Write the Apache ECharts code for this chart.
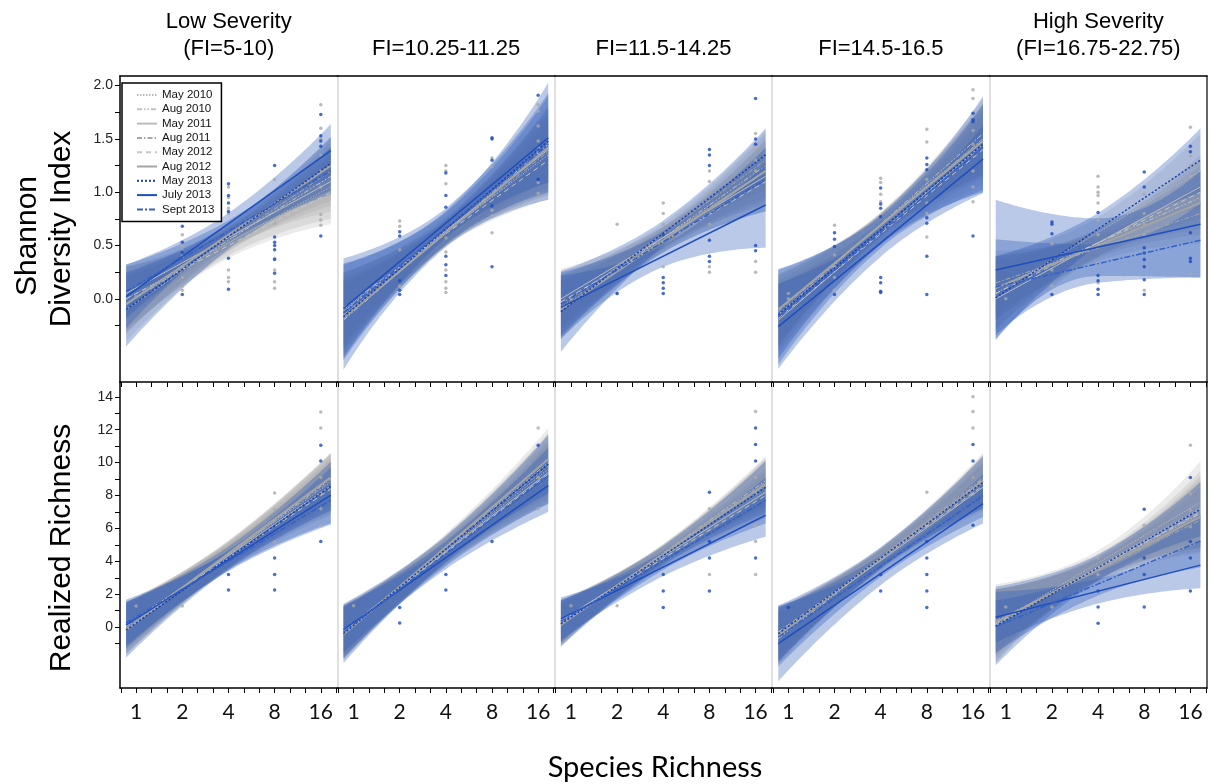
<!DOCTYPE html>
<html>
<head>
<meta charset="utf-8">
<script src="https://cdn.jsdelivr.net/npm/echarts@6/dist/echarts.min.js"></script>
<style>
  html, body { margin: 0; background: #fff; }
  #chart { width: 1211px; height: 784px; }
</style>
</head>
<body>
<div id="chart"></div>
<script>
// ---- data -----------------------------------------------------------
const seriesNames = ['May 2010', 'Aug 2010', 'May 2011', 'Aug 2011', 'May 2012', 'Aug 2012', 'May 2013', 'July 2013', 'Sept 2013'];
const panelTitles = ['Low Severity\n(FI=5-10)', 'FI=10.25-11.25', 'FI=11.5-14.25', 'FI=14.5-16.5', 'High Severity\n(FI=16.75-22.75)'];
const speciesLevels = [1, 2, 4, 8, 16];
// species richness where the fits start, where the bands are narrowest, where they end
const fitSpan = [0.86, 4, 18.6];

const shannonTickValues = [-0.25, 0, 0.25, 0.5, 0.75, 1, 1.25, 1.5, 1.75, 2];
const shannonLabelValues = [0, 0.5, 1, 1.5, 2];
const richnessTickValues = [-1, 0, 1, 2, 3, 4, 5, 6, 7, 8, 9, 10, 11, 12, 13, 14];
const richnessLabelValues = [0, 2, 4, 6, 8, 10, 12, 14];

// fitted line value at fit start / fit end, one row per sampling date
const shannonFits = [
  [[0.00, 1.05], [-0.05, 1.15], [0.05, 1.10], [-0.10, 1.20], [0.00, 1.00], [-0.05, 1.25], [-0.10, 1.27], [0.02, 1.39], [0.07, 1.20]],
  [[-0.10, 1.35], [-0.20, 1.45], [-0.12, 1.40], [-0.15, 1.38], [-0.08, 1.30], [-0.18, 1.42], [-0.17, 1.48], [-0.09, 1.51], [-0.13, 1.45]],
  [[-0.05, 1.20], [-0.10, 1.25], [0.00, 1.15], [-0.08, 1.30], [-0.03, 1.10], [-0.10, 1.20], [-0.12, 1.35], [-0.08, 0.88], [-0.05, 1.12]],
  [[-0.10, 1.50], [-0.15, 1.55], [-0.20, 1.45], [-0.12, 1.50], [-0.18, 1.40], [-0.10, 1.48], [-0.15, 1.45], [-0.26, 1.31], [-0.17, 1.42]],
  [[0.05, 1.20], [0.10, 0.95], [0.00, 1.05], [0.15, 0.80], [0.05, 1.00], [0.10, 0.90], [0.01, 1.30], [0.27, 0.70], [0.11, 0.55]]
];
// confidence band half width at fit start / waist / fit end
const shannonBands = [
  [[0.30, 0.12, 0.30], [0.28, 0.10, 0.28], [0.25, 0.10, 0.28], [0.30, 0.11, 0.28], [0.30, 0.12, 0.30], [0.28, 0.11, 0.26], [0.35, 0.12, 0.25], [0.30, 0.10, 0.25], [0.25, 0.10, 0.22]],
  [[0.35, 0.12, 0.38], [0.34, 0.12, 0.36], [0.36, 0.13, 0.38], [0.35, 0.12, 0.40], [0.33, 0.12, 0.37], [0.35, 0.12, 0.38], [0.50, 0.17, 0.55], [0.47, 0.14, 0.42], [0.45, 0.15, 0.45]],
  [[0.28, 0.10, 0.28], [0.27, 0.10, 0.30], [0.28, 0.10, 0.27], [0.29, 0.10, 0.28], [0.26, 0.10, 0.28], [0.28, 0.10, 0.30], [0.38, 0.12, 0.25], [0.30, 0.10, 0.40], [0.30, 0.10, 0.30]],
  [[0.33, 0.11, 0.33], [0.32, 0.11, 0.33], [0.34, 0.11, 0.32], [0.33, 0.11, 0.34], [0.32, 0.11, 0.33], [0.33, 0.11, 0.33], [0.42, 0.14, 0.45], [0.40, 0.13, 0.32], [0.45, 0.15, 0.40]],
  [[0.35, 0.14, 0.35], [0.30, 0.12, 0.30], [0.35, 0.13, 0.30], [0.30, 0.12, 0.28], [0.33, 0.13, 0.30], [0.30, 0.12, 0.30], [0.39, 0.15, 0.30], [0.66, 0.27, 0.50], [0.45, 0.18, 0.35]]
];
const richnessFits = [
  [[0.00, 8.80], [-0.20, 9.00], [0.10, 8.60], [-0.10, 8.90], [0.05, 8.40], [-0.15, 9.10], [-0.18, 8.57], [0.12, 8.02], [0.26, 7.72]],
  [[-0.30, 9.60], [-0.40, 10.00], [-0.20, 9.40], [-0.35, 9.80], [-0.25, 9.30], [-0.45, 10.20], [-0.40, 9.90], [-0.15, 8.60], [-0.30, 9.20]],
  [[0.30, 8.60], [0.10, 8.90], [0.40, 8.20], [0.20, 8.80], [0.35, 8.00], [0.15, 8.70], [0.20, 8.50], [0.50, 6.80], [0.35, 7.70]],
  [[-0.50, 8.80], [-0.70, 9.00], [-0.40, 8.50], [-0.60, 9.10], [-0.30, 8.60], [-0.50, 8.90], [-0.40, 8.80], [-1.00, 7.50], [-0.60, 8.00]],
  [[0.20, 7.60], [0.30, 6.90], [0.10, 7.20], [0.40, 6.50], [0.20, 7.00], [0.30, 6.70], [0.06, 7.17], [0.60, 3.77], [0.02, 5.23]]
];
const richnessBands = [
  [[1.50, 0.80, 1.70], [1.45, 0.80, 1.60], [1.50, 0.75, 1.70], [1.55, 0.80, 1.65], [1.40, 0.75, 1.60], [1.50, 0.80, 1.50], [1.70, 0.70, 1.50], [1.40, 0.60, 1.70], [1.40, 0.60, 1.50]],
  [[1.60, 0.80, 1.90], [1.55, 0.80, 1.80], [1.60, 0.75, 1.85], [1.65, 0.80, 1.90], [1.50, 0.75, 1.80], [1.60, 0.80, 1.90], [1.80, 0.80, 1.80], [1.40, 0.70, 1.60], [1.60, 0.75, 1.70]],
  [[1.30, 0.55, 1.50], [1.25, 0.55, 1.50], [1.30, 0.55, 1.45], [1.35, 0.55, 1.50], [1.25, 0.55, 1.40], [1.30, 0.55, 1.50], [1.40, 0.60, 1.60], [1.30, 0.55, 1.30], [1.30, 0.55, 1.40]],
  [[1.60, 0.60, 1.50], [1.55, 0.60, 1.50], [1.60, 0.60, 1.45], [1.65, 0.60, 1.50], [1.50, 0.60, 1.40], [1.60, 0.60, 1.50], [1.70, 0.65, 1.60], [2.30, 0.70, 1.20], [1.80, 0.65, 1.30]],
  [[2.40, 0.75, 2.50], [2.00, 0.70, 2.10], [2.20, 0.75, 2.30], [1.90, 0.70, 2.00], [2.10, 0.70, 2.20], [2.00, 0.70, 2.10], [2.40, 0.80, 1.65], [1.55, 0.75, 1.40], [1.60, 0.70, 1.60]]
];

// plot points, one list per species level (1, 2, 4, 8, 16)
const shannonBlue = [
  [[], [0.74, 0.68, 0.53, 0.44, 0.04], [1.08, 0.97, 0.90, 0.82, 0.38, 0.09], [1.25, 0.58, 0.53, 0.50, 0.46, 0.37, 0.24], [1.73, 1.53, 1.48, 1.43, 0.59]],
  [[], [0.63, 0.59, 0.17, 0.08, 0.04], [1.18, 0.97, 0.86, 0.40, 0.32, 0.22], [1.51, 1.50, 1.30, 0.87, 0.30], [1.91, 1.12]],
  [[], [0.05], [0.60, 0.55, 0.20, 0.15, 0.10, 0.05], [1.40, 1.35, 1.25, 0.85, 0.55, 0.40, 0.35], [1.88, 1.50, 1.45, 0.50, 0.45]],
  [[], [0.62, 0.56, 0.49, 0.04], [1.04, 0.89, 0.85, 0.77, 0.20, 0.15, 0.07, 0.06], [1.32, 1.26, 1.21, 0.76, 0.71, 0.40, 0.04], [1.74, 1.68, 1.66, 0.59]],
  [[], [0.72, 0.70, 0.61, 0.04], [0.81, 0.22, 0.17, 0.09, 0.04], [1.19, 1.05, 0.48, 0.43, 0.37, 0.30, 0.18, 0.04], [1.43, 1.38, 0.62, 0.38, 0.35]]
];
const shannonGrey = [
  [[0.02], [0.60, 0.50, 0.45, 0.40, 0.30, 0.20, 0.12, 0.08], [1.05, 0.95, 0.85, 0.80, 0.27, 0.20, 0.16], [1.12, 0.71, 0.38, 0.27, 0.16, 0.10], [1.82, 1.60, 1.50, 1.35, 1.20, 1.05, 0.79, 0.74, 0.69]],
  [[-0.05], [0.73, 0.68, 0.46, 0.12], [1.25, 1.20, 1.08, 0.57, 0.44, 0.27, 0.16, 0.10, 0.06], [1.32, 1.24, 0.83, 0.78, 0.62], [1.82, 1.76, 1.62, 1.48, 1.42, 1.37, 1.09, 0.99]],
  [[0.00], [0.70, 0.05], [0.90, 0.80, 0.70, 0.30], [1.20, 1.10, 1.00, 0.70, 0.30, 0.25], [1.55, 1.40, 1.30, 1.20, 0.35, 0.25]],
  [[0.00, 0.05], [0.69, 0.41, 0.30, 0.20, 0.08], [1.13, 1.09, 0.98, 0.91], [1.59, 1.47, 1.12, 1.00, 0.90, 0.80, 0.58], [1.96, 1.88, 1.58, 1.45, 1.35, 1.20, 1.05, 0.91]],
  [[0.00], [0.52, 0.27, 0.12], [1.15, 1.05, 1.00, 0.97, 0.90, 0.74, 0.60, 0.52, 0.33, 0.15], [0.98, 0.90, 0.80, 0.70, 0.60, 0.08], [1.61, 1.34, 1.25, 1.15, 0.23]]
];
const richnessBlue = [
  [[], [], [3.2, 2.25], [4.2, 3.2, 2.25], [11.06, 10.1, 5.2]],
  [[], [1.2, 0.25], [3.2, 2.25], [5.2], [11.06]],
  [[], [], [3.2, 2.2, 1.2], [8.2, 5.2, 4.2, 2.2], [12.1, 11.1, 10.1, 4.2]],
  [[1.2], [], [3.2, 2.2], [5.2, 4.2, 3.2, 2.2, 1.2], [11.1, 10.1, 6.2]],
  [[], [], [2.2, 1.23, 0.24], [7.17, 4.2, 3.2, 1.23], [9.1, 5.2, 4.2, 2.2]]
];
const richnessGrey = [
  [[1.28], [1.28], [], [8.15, 7.17, 5.19], [13.07, 12.1, 9.1, 8.1, 7.2, 6.2]],
  [[1.3], [], [], [], [12.1, 9.1, 7.2]],
  [[1.3], [1.3], [], [7.2, 3.2], [13.1, 9.1, 8.1, 6.2, 5.2, 3.2]],
  [[], [], [], [8.2, 6.2], [14.0, 13.1, 12.1, 9.1, 8.1]],
  [[1.23], [1.23], [4.2, 3.2], [6.2, 5.2], [11.06, 8.1, 7.1, 6.1]]
];

// ---- styles ---------------------------------------------------------
const lineStyles = [
  { color: '#b8b8b8', type: [1.5, 1.5], width: 1 },
  { color: '#c2c2c2', type: [5, 2, 1.5, 2, 1.5, 2], width: 1 },
  { color: '#bcbcbc', type: 'solid', width: 1 },
  { color: '#a8a8a8', type: [5, 2, 1.5, 2], width: 1 },
  { color: '#c8c8c8', type: [5, 4], width: 1 },
  { color: '#a4a4a4', type: 'solid', width: 2 },
  { color: '#163fb0', type: [2, 2], width: 1.5 },
  { color: '#1f4ebf', type: 'solid', width: 1.5 },
  { color: '#3461c9', type: [6, 2, 2, 2], width: 1.5 }
];
const GREY_BAND = 'rgba(150,150,150,0.19)';
const BLUE_BAND = 'rgba(40,88,185,0.32)';
const GREY_DOT = '#a9a9a9';
const BLUE_DOT = '#1a48bd';

const LEFT = 120, PANEL_W = 217.4, TOP = 76, ROW_H = 306;

const rows = [
  { fits: shannonFits, bands: shannonBands, blue: shannonBlue, grey: shannonGrey,
    ticks: shannonTickValues, labels: shannonLabelValues, min: -0.78, max: 2.09, fmt: v => v.toFixed(1) },
  { fits: richnessFits, bands: richnessBands, blue: richnessBlue, grey: richnessGrey,
    ticks: richnessTickValues, labels: richnessLabelValues, min: -3.7, max: 14.9, fmt: v => String(v) }
];

// x is drawn on log2 of species richness; ticks every third of a doubling
const xTickValues = [];
for (let k = -1; k <= 13; k++) xTickValues.push(k / 3);
const xLabelValues = speciesLevels.map(v => Math.log2(v));

const grids = [], xAxes = [], yAxes = [], extraX = [], extraY = [], series = [];
const xl = Math.log2(fitSpan[0]), xm = Math.log2(fitSpan[1]), xr = Math.log2(fitSpan[2]);

function toPoints(lists) {
  const pts = [];
  speciesLevels.forEach((lv, i) => lists[i].forEach(v => pts.push([Math.log2(lv), v])));
  return pts;
}

rows.forEach((row, r) => {
  for (let p = 0; p < 5; p++) {
    const g = r * 5 + p;
    grids.push({ left: LEFT + p * PANEL_W, top: TOP + r * ROW_H, width: PANEL_W, height: ROW_H });

    xAxes.push({
      type: 'value', gridIndex: g, min: -0.35, max: 4.36,
      axisLine: { show: true, onZero: false, lineStyle: { color: '#000', width: 1.5 } },
      axisTick: { show: true, customValues: xTickValues, length: 5, lineStyle: { color: '#000', width: 1 } },
      axisLabel: {
        show: r === 1, customValues: xLabelValues, margin: 14,
        formatter: v => String(Math.round(Math.pow(2, v))),
        fontFamily: 'Lato', fontSize: 21, color: '#111'
      },
      splitLine: { show: false }
    });
    if (r === 0) {
      extraX.push({
        type: 'value', gridIndex: g, position: 'top',
        axisLine: { show: true, onZero: false, lineStyle: { color: '#000', width: 1.5 } },
        axisTick: { show: false }, axisLabel: { show: false }, splitLine: { show: false }
      });
    }
    yAxes.push({
      type: 'value', gridIndex: g, min: row.min, max: row.max,
      axisLine: { show: true, onZero: false, lineStyle: { color: p === 0 ? '#000' : '#d6d6d6', width: 1.5 } },
      axisTick: { show: p === 0, customValues: row.ticks, length: 5, lineStyle: { color: '#000' } },
      axisLabel: {
        show: p === 0, customValues: row.labels, margin: 7, formatter: row.fmt,
        fontFamily: 'Liberation Sans', fontSize: 14, color: '#222'
      },
      splitLine: { show: false }
    });
    if (p === 4) {
      extraY.push({
        type: 'value', gridIndex: g, position: 'right',
        axisLine: { show: true, onZero: false, lineStyle: { color: '#333', width: 1.5 } },
        axisTick: { show: false }, axisLabel: { show: false }, splitLine: { show: false }
      });
    }

    // confidence bands: lower edge, then band thickness stacked on it.
    // rows are [y, x] so that the stack is taken on y.
    seriesNames.forEach((name, s) => {
      const [yl, yr] = row.fits[p][s];
      const [hl, hm, hr] = row.bands[p][s];
      const ym = yl + (yr - yl) * (xm - xl) / (xr - xl);
      const stack = 'band' + g + '_' + s;
      const common = {
        type: 'line', xAxisIndex: g, yAxisIndex: g, stack, stackStrategy: 'all',
        encode: { x: 1, y: 0 },
        smooth: 0.5, symbol: 'none', silent: true, lineStyle: { opacity: 0 }, z: 1
      };
      series.push(Object.assign({}, common, { data: [[yl - hl, xl], [ym - hm, xm], [yr - hr, xr]] }));
      series.push(Object.assign({}, common, {
        areaStyle: { color: s >= 6 ? BLUE_BAND : GREY_BAND, opacity: 1 },
        data: [[2 * hl, xl], [2 * hm, xm], [2 * hr, xr]]
      }));
    });

    series.push({ type: 'scatter', xAxisIndex: g, yAxisIndex: g, symbolSize: 3.5, silent: true, z: 3,
      itemStyle: { color: GREY_DOT }, data: toPoints(row.grey[p]) });
    series.push({ type: 'scatter', xAxisIndex: g, yAxisIndex: g, symbolSize: 3.5, silent: true, z: 3,
      itemStyle: { color: BLUE_DOT }, data: toPoints(row.blue[p]) });

    seriesNames.forEach((name, s) => {
      const st = lineStyles[s];
      const [yl, yr] = row.fits[p][s];
      series.push({
        type: 'line', name, xAxisIndex: g, yAxisIndex: g, symbol: 'none', silent: true,
        color: st.color, z: s >= 6 ? 5 : 4,
        lineStyle: { color: st.color, width: st.width, type: st.type },
        data: [[xl, yl], [xr, yr]]
      });
    });
  }
});

// ---- texts ----------------------------------------------------------
const graphics = [];
panelTitles.forEach((t, p) => {
  const two = t.indexOf('\n') >= 0;
  graphics.push({
    type: 'text', x: LEFT + (p + 0.5) * PANEL_W, y: two ? 35 : 49,
    style: { text: t, fill: '#000', fontFamily: 'Liberation Sans', fontSize: 22, lineHeight: 27,
      align: 'center', verticalAlign: 'middle', textAlign: 'center', textVerticalAlign: 'middle' }
  });
});
const sideNames = [
  { text: 'Shannon', x: 28, y: 236 },
  { text: 'Diversity Index', x: 62, y: 229 },
  { text: 'Realized Richness', x: 62, y: 548 }
];
sideNames.forEach(n => {
  graphics.push({
    type: 'text', x: n.x, y: n.y, rotation: Math.PI / 2,
    style: { text: n.text, fill: '#000', fontFamily: 'Liberation Sans', fontSize: 30,
      align: 'center', verticalAlign: 'middle', textAlign: 'center', textVerticalAlign: 'middle' }
  });
});
graphics.push({
  type: 'text', x: 655, y: 768,
  style: { text: 'Species Richness', fill: '#000', fontFamily: 'Lato', fontSize: 29,
    align: 'center', verticalAlign: 'middle', textAlign: 'center', textVerticalAlign: 'middle' }
});

const chart = echarts.init(document.getElementById('chart'), null, { renderer: 'canvas' });
chart.setOption({
  animation: false,
  backgroundColor: '#fff',
  grid: grids,
  xAxis: xAxes.concat(extraX),
  yAxis: yAxes.concat(extraY),
  legend: {
    data: seriesNames, orient: 'vertical', left: 122, top: 83, z: 10,
    padding: [6, 7, 6, 14], itemWidth: 20, itemHeight: 8, itemGap: 2.3,
    backgroundColor: '#fff', borderColor: '#000', borderWidth: 1.5, borderRadius: 0,
    selectedMode: false, itemStyle: { opacity: 0 },
    textStyle: { fontFamily: 'Liberation Sans', fontSize: 11.5, color: '#111', padding: [0, 0, 0, 0] }
  },
  graphic: graphics,
  series: series
});
</script>
</body>
</html>
